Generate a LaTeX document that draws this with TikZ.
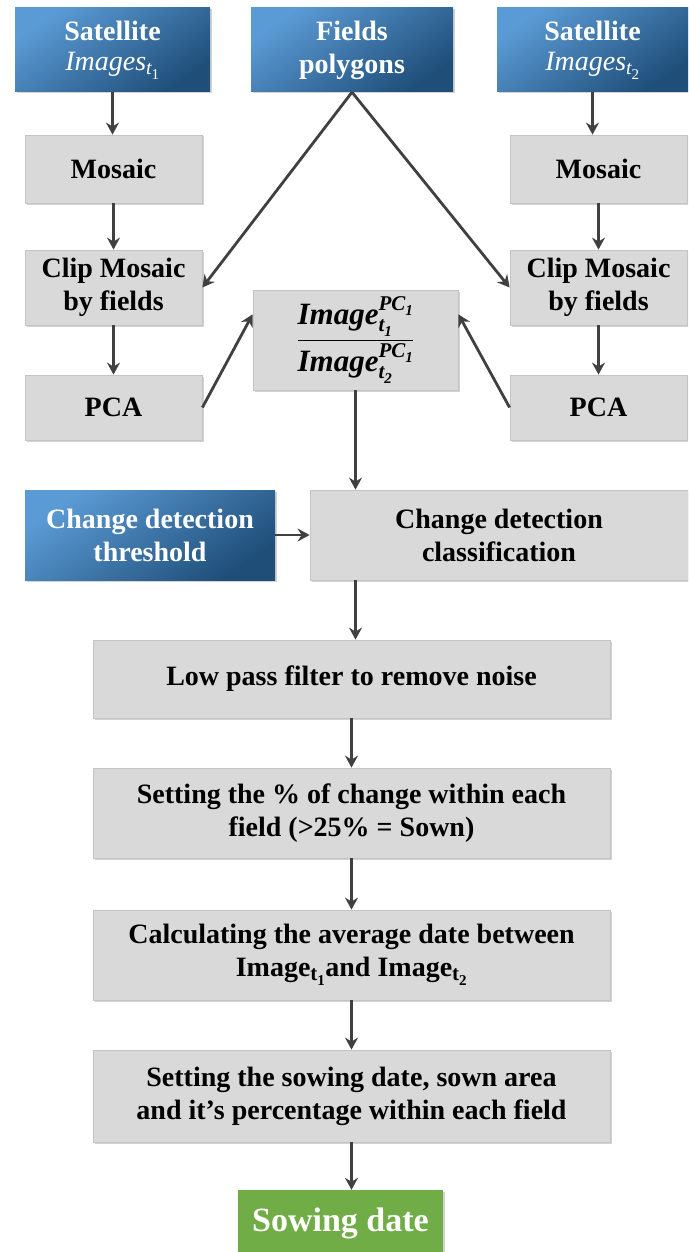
\documentclass[tikz,border=0pt]{standalone}
\usepackage{amsmath}
\usepackage{fontspec}
\setmainfont{Liberation Serif}
\usetikzlibrary{arrows.meta,shadows,calc}
\definecolor{gfill}{HTML}{D9D9D9}
\definecolor{gline}{HTML}{C4C4C4}
\definecolor{blueA}{HTML}{5B9BD5}
\definecolor{blueB}{HTML}{1F4E79}
\definecolor{greenA}{HTML}{70AD47}
\definecolor{arr}{HTML}{404040}
\newcommand{\bimg}{\mbox{\bfseries\itshape Image}}
\newcommand{\fs}[2]{\mbox{\fontsize{#1}{#1}\selectfont #2}}
% script with its own lowered index: #1 size, #2 letters, #3 index size, #4 index
\newcommand{\sx}[4]{\fs{#1}{#2\raisebox{-0.25em}{\fontsize{#3}{#3}\selectfont #4}}}
\tikzset{
  base/.style={rectangle, inner sep=0pt, align=center, font=\bfseries\fontsize{28}{33}\selectfont},
  gbox/.style={base, fill=gfill, draw=gline, line width=0.8pt,
    drop shadow={shadow xshift=1.5pt, shadow yshift=-1.5pt, opacity=0.35}},
  bbox/.style={base, text=white, top color=blueA, bottom color=blueB, shading angle=35,
    drop shadow={shadow xshift=1.5pt, shadow yshift=-1.5pt, opacity=0.35}},
  grbox/.style={base, text=white, fill=greenA, font=\bfseries\fontsize{34}{38}\selectfont,
    drop shadow={shadow xshift=1.5pt, shadow yshift=-1.5pt, opacity=0.35}},
  arrow/.style={draw=arr, line width=2.8pt, -{Stealth[length=12pt,width=13pt,inset=4pt]}}
}
\begin{document}
\begin{tikzpicture}[x=1pt,y=-1pt]
\useasboundingbox (0,0) rectangle (688,1252);
\clip (0,0) rectangle (688,1252);
% top inputs
\node[bbox, minimum width=195, minimum height=84] (s1) at (112.5,50)
  {Satellite\\[-3pt]\mdseries\itshape Images$_{\sx{20}{\itshape t}{15}{\upshape 1}}$};
\node[bbox, minimum width=202, minimum height=84] (fp) at (352,50) {Fields\\polygons};
\node[bbox, minimum width=191, minimum height=84] (s2) at (592.5,50)
  {Satellite\\[-3pt]\mdseries\itshape Images$_{\sx{20}{\itshape t}{15}{\upshape 2}}$};
% left column
\node[gbox, minimum width=177, minimum height=68] (mos1) at (113.5,169) {Mosaic};
\node[gbox, minimum width=177, minimum height=75] (clip1) at (113.5,287.5) {Clip Mosaic\\by fields};
\node[gbox, minimum width=177, minimum height=65] (pca1) at (113.5,407.5) {PCA};
% right column
\node[gbox, minimum width=177, minimum height=68] (mos2) at (598.5,169) {Mosaic};
\node[gbox, minimum width=177, minimum height=75] (clip2) at (598.5,287.5) {Clip Mosaic\\by fields};
\node[gbox, minimum width=177, minimum height=65] (pca2) at (598.5,407.5) {PCA};
% ratio
\node[gbox, minimum width=205, minimum height=100, font=\fontsize{31}{34}\selectfont] (ratio) at (355.5,340)
  {$\dfrac{\bimg^{\sx{21}{\bfseries\itshape PC}{15}{\bfseries 1}}_{\sx{21}{\bfseries\itshape t}{15}{\bfseries 1}}}{\bimg^{\sx{21}{\bfseries\itshape PC}{15}{\bfseries 1}}_{\sx{21}{\bfseries\itshape t}{15}{\bfseries 2}}}$};
% change detection
\node[bbox, minimum width=250, minimum height=90] (thr) at (150,535) {Change detection\\threshold};
\node[gbox, minimum width=378, minimum height=90] (cls) at (499,535) {Change detection\\classification};
% chain
\node[gbox, minimum width=517, minimum height=78] (lp) at (351.5,679) {Low pass filter to remove noise};
\node[gbox, minimum width=517, minimum height=90] (pct) at (351.5,813) {Setting the \% of change within each\\field (>25\% = Sown)};
\node[gbox, minimum width=517, minimum height=90] (calc) at (351.5,955)
  {Calculating the average date between\\Image$_{\sx{21}{\bfseries t}{15}{\bfseries 1}}$and Image$_{\sx{21}{\bfseries t}{15}{\bfseries 2}}$};
\node[gbox, minimum width=517, minimum height=92] (sow) at (351.5,1096) {Setting the sowing date, sown area\\and it’s percentage within each field};
\node[grbox, minimum width=205, minimum height=66] (out) at (340.5,1223) {Sowing date};
% arrows
\draw[arrow] (s1.south) -- (s1.south |- mos1.north);
\draw[arrow] (mos1.south) -- (clip1.north);
\draw[arrow] (clip1.south) -- (pca1.north);
\draw[arrow] (s2.south) -- (s2.south |- mos2.north);
\draw[arrow] (mos2.south) -- (clip2.north);
\draw[arrow] (clip2.south) -- (pca2.north);
\draw[arrow] (fp.south) -- (clip1.east);
\draw[arrow] (fp.south) -- (clip2.west);
\draw[arrow] (pca1.east) -- (ratio.166);
\draw[arrow] (pca2.west) -- (ratio.14);
\draw[arrow] (ratio.south) -- (ratio.south |- cls.north);
\draw[arrow] (thr.east) -- (cls.west);
\draw[arrow] (ratio.south |- cls.south) -- (ratio.south |- lp.north);
\draw[arrow] (lp.south) -- (pct.north);
\draw[arrow] (pct.south) -- (calc.north);
\draw[arrow] (calc.south) -- (sow.north);
\draw[arrow] (sow.south) -- (sow.south |- out.north);
\end{tikzpicture}
\end{document}
